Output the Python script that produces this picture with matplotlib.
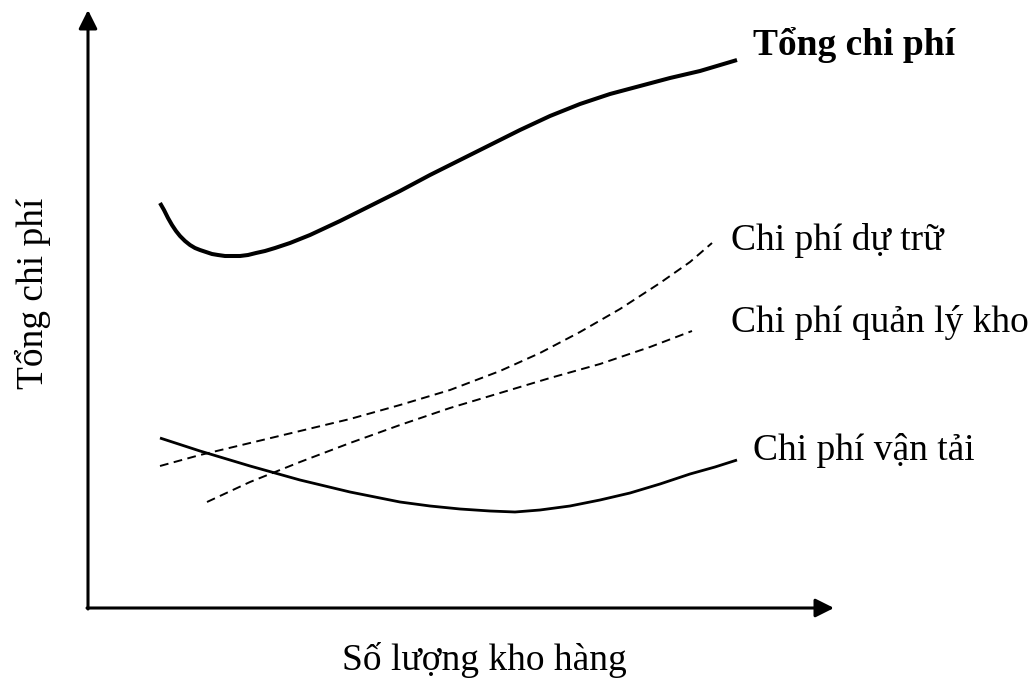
import numpy as np
import matplotlib.pyplot as plt

plt.rcParams['font.family'] = ['Liberation Serif', 'DejaVu Serif']

tong_x = [160, 164, 168, 172, 176, 180, 185, 190, 195, 200, 206, 212, 218, 225, 232, 240, 248, 256, 265, 275, 290, 310, 340, 370, 400, 430, 460, 490, 520, 550, 580, 610, 640, 670, 700, 737]
tong_y = [203, 210, 218, 225, 231, 236, 241, 245, 248, 250, 252, 254, 255, 256, 256, 256, 255, 253, 251, 248, 243, 235, 221, 206, 191, 175, 160, 145, 130, 116, 104, 94, 86, 78, 71, 60]

dutru_x = [160, 200, 250, 300, 350, 400, 450, 500, 540, 580, 620, 660, 690, 712]
dutru_y = [466, 455, 443, 431, 419, 405, 390, 371, 353, 332, 309, 283, 262, 243]

quanly_x = [207, 250, 300, 350, 400, 450, 500, 550, 600, 650, 692]
quanly_y = [502, 482, 462, 443, 425, 408, 393, 378, 364, 347, 331]

vantai_x = [160, 200, 250, 300, 350, 400, 430, 460, 490, 515, 540, 570, 600, 630, 660, 690, 715, 737]
vantai_y = [438, 451, 466, 480, 492, 502, 506, 509, 511, 512, 510, 506, 500, 493, 484, 474, 467, 460]

fig = plt.figure(figsize=(10.35, 6.86), dpi=100)
ax = fig.add_axes([0, 0, 1, 1])
ax.set_xlim(0, 1035)
ax.set_ylim(686, 0)
ax.axis('off')

# Achsen mit Pfeilen
ax.annotate('', xy=(88, 10), xytext=(88, 609),
            arrowprops=dict(arrowstyle='-|>', lw=2.2, color='black', mutation_scale=28, shrinkA=0, shrinkB=0))
ax.annotate('', xy=(834, 608), xytext=(87, 608),
            arrowprops=dict(arrowstyle='-|>', lw=2.2, color='black', mutation_scale=28, shrinkA=0, shrinkB=0))

ax.plot(tong_x, tong_y, color='black', lw=2.9, solid_capstyle='butt', solid_joinstyle='round')
ax.plot(vantai_x, vantai_y, color='black', lw=2.0, solid_capstyle='butt', solid_joinstyle='round')
ax.plot(dutru_x, dutru_y, color='black', lw=1.4, linestyle=(0, (4.5, 2.8)))
ax.plot(quanly_x, quanly_y, color='black', lw=1.4, linestyle=(0, (4.5, 2.8)))

fs = 27
ax.text(753, 45, 'Tổng chi phí', fontsize=fs, fontweight='bold', va='center', ha='left')
ax.text(731, 241, 'Chi phí dự trữ', fontsize=fs, va='center', ha='left')
ax.text(731, 322, 'Chi phí quản lý kho', fontsize=fs, va='center', ha='left')
ax.text(753, 450, 'Chi phí vận tải', fontsize=fs, va='center', ha='left')
ax.text(484, 660, 'Số lượng kho hàng', fontsize=fs, va='center', ha='center')
ax.text(33, 293, 'Tổng chi phí', fontsize=fs, va='center', ha='center', rotation=90)

plt.savefig("out.png", dpi=100)
